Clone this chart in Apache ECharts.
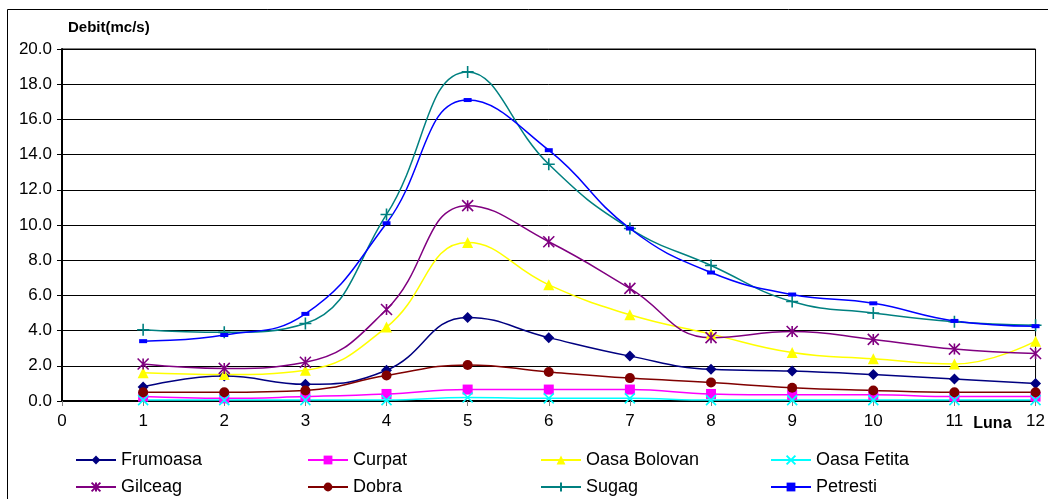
<!DOCTYPE html>
<html><head><meta charset="utf-8">
<script src="https://cdn.jsdelivr.net/npm/echarts@6/dist/echarts.min.js"></script>
<style>html,body{margin:0;padding:0;background:#fff}#c{width:1048px;height:499px}</style>
</head><body><div id="c"></div>
<script>
const months = [1,2,3,4,5,6,7,8,9,10,11,12];
const yTicks = [0,2,4,6,8,10,12,14,16,18,20];
const frumoasa = [0.8,1.42,0.95,1.75,4.75,3.6,2.55,1.8,1.7,1.5,1.25,1.0];
const curpat = [0.25,0.15,0.25,0.4,0.65,0.65,0.65,0.4,0.35,0.35,0.25,0.25];
const oasaBolovan = [1.6,1.5,1.75,4.2,9.0,6.6,4.9,3.8,2.75,2.4,2.1,3.4];
const oasaFetita = [0.05,0.05,0.05,0.05,0.2,0.15,0.15,0.05,0.05,0.05,0.05,0.05];
const gilceag = [2.1,1.85,2.2,5.2,11.1,9.05,6.4,3.6,3.95,3.5,2.95,2.7];
const dobra = [0.5,0.5,0.6,1.45,2.05,1.65,1.3,1.05,0.75,0.6,0.5,0.5];
const sugag = [4.05,3.9,4.4,10.6,18.7,13.45,9.8,7.7,5.65,5.0,4.5,4.3];
const petresti = [3.4,3.75,4.95,10.1,17.1,14.25,9.8,7.3,6.05,5.55,4.55,4.25];

const pair = arr => arr.map((v,i)=>[months[i],v]);
const FONT = '"Liberation Sans", Arial, sans-serif';

function mk(name, data, color, symbol, size, stroke){
  return {
    name, type:'line', data: pair(data), smooth:0.45,
    symbol, symbolSize:size, showSymbol:true,
    lineStyle:{color, width:1.5},
    itemStyle: stroke ? {color:'rgba(0,0,0,0)', borderColor:color, borderWidth:1.6}
                      : {color, borderWidth:0},
    emphasis:{disabled:true}, z:3
  };
}
const XSYM = 'path://M0,0L10,10M10,0L0,10';
const STAR = 'path://M0,0L10,10M10,0L0,10M5,0L5,10';
const PLUS = 'path://M5,0L5,10M0,5L10,5';

const series = [
  mk('Frumoasa', frumoasa, '#000080', 'diamond', 11),
  mk('Curpat', curpat, '#ff00ff', 'rect', 10),
  mk('Oasa Bolovan', oasaBolovan, '#ffff00', 'triangle', 11),
  mk('Oasa Fetita', oasaFetita, '#00ffff', XSYM, 10, true),
  mk('Gilceag', gilceag, '#800080', STAR, 11, true),
  mk('Dobra', dobra, '#800000', 'circle', 10),
  mk('Sugag', sugag, '#008080', PLUS, 12, true),
  mk('Petresti', petresti, '#0000ff', 'rect', [8,4])
];

const legendPos = [
  ['Frumoasa',75,451],['Curpat',307,451],['Oasa Bolovan',540,451],['Oasa Fetita',770,451],
  ['Gilceag',75,478],['Dobra',307,478],['Sugag',540,478],['Petresti',770,478]
];
const legends = legendPos.map(([n,l,t])=>({
  data:[n], left:l, top:t, padding:0, itemWidth:40, itemHeight:11, itemGap:0,
  selectedMode:false,
  textStyle:{fontFamily:FONT, fontSize:18, color:'#000', padding:[0,0,0,0]}
}));

const chart = echarts.init(document.getElementById('c'), null, {renderer:'canvas'});
chart.setOption({
  animation:false,
  backgroundColor:'#fff',
  graphic:[{type:'rect', shape:{x:7.5,y:9.5,width:1100,height:600}, style:{fill:'none', stroke:'#000', lineWidth:1}, z:-1}],
  grid:{left:62, right:11, top:49, bottom:98, show:true, borderColor:'#000', borderWidth:1},
  xAxis:{type:'value', min:0, max:12, interval:1,
    axisLine:{onZero:false, lineStyle:{color:'#000', width:2}},
    axisTick:{show:true, length:5, lineStyle:{color:'#808080'}},
    axisLabel:{fontFamily:FONT, fontSize:17, color:'#000', margin:12},
    splitLine:{show:false},
    name:'Luna', nameLocation:'end', nameGap:0,
    nameTextStyle:{fontFamily:FONT, fontSize:16, fontWeight:'bold', color:'#000', align:'right', verticalAlign:'top', padding:[15,24,0,0]}
  },
  yAxis:{type:'value', min:0, max:20, interval:2,
    axisLine:{show:true, lineStyle:{color:'#000', width:2}},
    axisTick:{show:true, length:5, lineStyle:{color:'#000'}},
    axisLabel:{fontFamily:FONT, fontSize:17, color:'#000', margin:10, formatter:v=>v.toFixed(1)},
    splitLine:{show:true, lineStyle:{color:'#000', width:1}},
    name:'Debit(mc/s)', nameLocation:'end', nameGap:14,
    nameTextStyle:{fontFamily:FONT, fontSize:15, fontWeight:'bold', color:'#000', align:'left', padding:[0,0,0,6]}
  },
  legend: legends,
  series
});
</script></body></html>
